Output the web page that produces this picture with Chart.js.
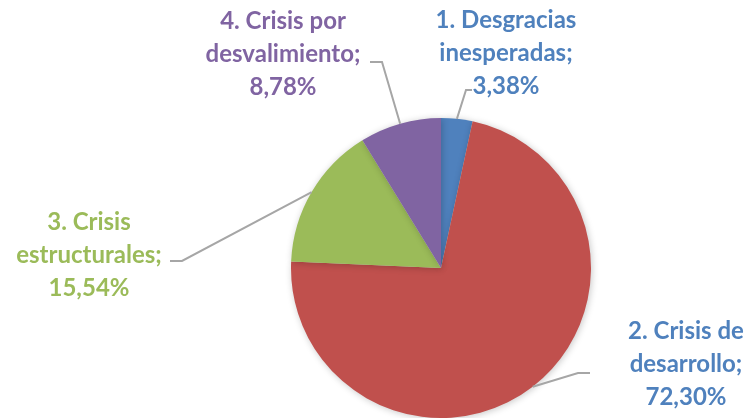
<!DOCTYPE html>
<html>
<head>
<meta charset="utf-8">
<script src="https://cdn.jsdelivr.net/npm/chart.js@4.4.1/dist/chart.umd.min.js"></script>
<style>
  html, body { margin: 0; padding: 0; background: #fff; }
  #wrap { width: 749px; height: 418px; }
</style>
</head>
<body>
<div id="wrap"><canvas id="pie"></canvas></div>
<script>
var categories = [
  ['1. Desgracias', 'inesperadas;'],
  ['2. Crisis de', 'desarrollo;'],
  ['3. Crisis', 'estructurales;'],
  ['4. Crisis por', 'desvalimiento;']
];
var percentages = [3.38, 72.30, 15.54, 8.78];
var sliceColors = ['#4F81BD', '#C0504D', '#9BBB59', '#8064A2'];
var labelColors = ['#4F81BD', '#4F81BD', '#9BBB59', '#8064A2'];

// where each label sits and how its leader line bends
var labelLayout = [
  { x: 506, y: 20, elbow: [466, 90], end: [472, 90] },
  { x: 686, y: 331, elbow: [578, 373], end: [590, 373] },
  { x: 89, y: 222, elbow: [182, 261], end: [170, 261] },
  { x: 283, y: 21, elbow: [382, 62], end: [370, 62] }
];

function fmtPct(v) {
  return v.toFixed(2).replace('.', ',') + '%';
}

var shadowPlugin = {
  id: 'pieShadow',
  beforeDatasetsDraw: function(chart) {
    var ctx = chart.ctx;
    ctx.save();
    ctx.shadowColor = 'rgba(0,0,0,0.22)';
    ctx.shadowBlur = 7;
    ctx.shadowOffsetX = 1;
    ctx.shadowOffsetY = 1;
  },
  afterDatasetsDraw: function(chart) {
    chart.ctx.restore();
  }
};

var calloutPlugin = {
  id: 'callouts',
  afterDraw: function(chart) {
    var ctx = chart.ctx;
    var arcs = chart.getDatasetMeta(0).data;
    ctx.save();
    arcs.forEach(function(arc, i) {
      var mid = (arc.startAngle + arc.endAngle) / 2;
      var ax = arc.x + Math.cos(mid) * arc.outerRadius;
      var ay = arc.y + Math.sin(mid) * arc.outerRadius;
      var lay = labelLayout[i];
      ctx.strokeStyle = '#A6A6A6';
      ctx.lineWidth = 2;
      ctx.beginPath();
      ctx.moveTo(ax, ay);
      ctx.lineTo(lay.elbow[0], lay.elbow[1]);
      ctx.lineTo(lay.end[0], lay.end[1]);
      ctx.stroke();

      var lines = categories[i].concat([fmtPct(percentages[i])]);
      ctx.fillStyle = labelColors[i];
      ctx.font = 'bold 24px Lato';
      ctx.textAlign = 'center';
      ctx.textBaseline = 'middle';
      lines.forEach(function(t, k) {
        ctx.fillText(t, lay.x, lay.y + k * 33);
      });
    });
    ctx.restore();
  }
};

new Chart(document.getElementById('pie'), {
  type: 'pie',
  data: {
    labels: categories.map(function(c) { return c.join(' '); }),
    datasets: [{
      data: percentages,
      backgroundColor: sliceColors,
      borderWidth: 0
    }]
  },
  options: {
    responsive: true,
    maintainAspectRatio: false,
    animation: false,
    layout: { padding: { left: 291, right: 158, top: 118, bottom: 0 } },
    plugins: {
      legend: { display: false },
      tooltip: { enabled: false }
    }
  },
  plugins: [shadowPlugin, calloutPlugin]
});
</script>
</body>
</html>
